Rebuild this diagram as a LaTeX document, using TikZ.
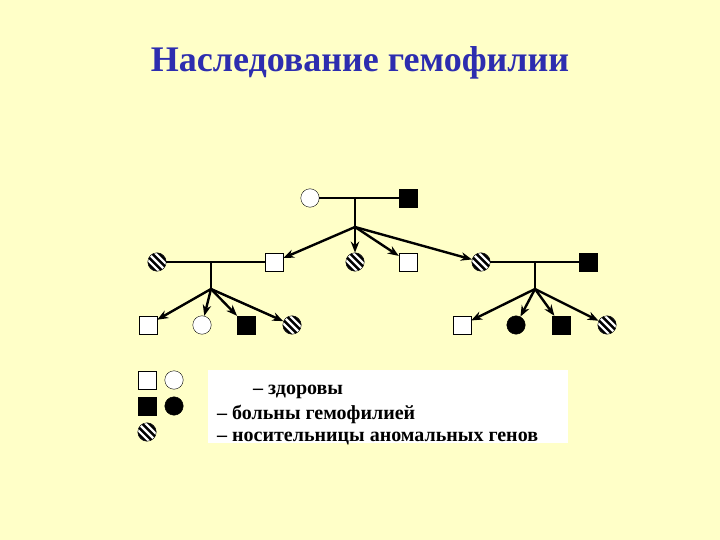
\documentclass[tikz,border=0pt]{standalone}
\usepackage{fontspec}
\setmainfont{Liberation Serif}
\usetikzlibrary{arrows.meta}
\definecolor{bgyellow}{RGB}{255,255,200}
\definecolor{titleblue}{RGB}{45,45,175}

\begin{document}
\begin{tikzpicture}
[x=1pt,y=-1pt,
  malenode/.style={shape=rectangle,draw,thin,fill=white,minimum size=18pt,inner sep=0pt},%
  sickmale/.style={malenode,fill=black},%
  femalenode/.style={shape=circle,draw,thin,fill=white,minimum size=18.5pt,inner sep=0pt},%
  sickfemale/.style={femalenode,fill=black},%
  carrier/.style={femalenode,path picture={%
    \foreach \s in {-7.5,-2.5,2.5,7.5}
      \draw[line width=2.5pt] ([shift={(\s*0.7071pt-14pt,\s*0.7071pt+14pt)}]path picture bounding box.center) -- ++(28pt,-28pt);}},%
  couple/.style={-,line width=2.4pt},%
  descent/.style={-{Stealth[length=11pt,width=8.5pt]},line width=2.4pt},%
  legendtext/.style={anchor=base west,font=\fontsize{20}{22}\selectfont\bfseries,inner sep=0pt}]
\useasboundingbox[fill=bgyellow] (0,0) rectangle (720,540);
\node (title) at (360,63) [text=titleblue,font=\fontsize{36}{40}\selectfont\bfseries] {Наследование гемофилии};
%% healthy males
\foreach \nodename/\x/\y in {s1/274/262, s2/408/262, a1/148/325, b1/462/325, l1/147/380}
{
  \node (\nodename) at (\x,\y) [malenode] {};
}
%% sick males
\foreach \nodename/\x/\y in {gf/408/198, h2/588/262, a3/246/325, b3/561/325, l3/147/406}
{
  \node (\nodename) at (\x,\y) [sickmale] {};
}
%% healthy females
\foreach \nodename/\x/\y in {gm/310/198, a2/202/325, l2/174/380}
{
  \node (\nodename) at (\x,\y) [femalenode] {};
}
%% sick females
\foreach \nodename/\x/\y in {b2/516/325, l4/174/406}
{
  \node (\nodename) at (\x,\y) [sickfemale] {};
}
%% carriers
\foreach \nodename/\x/\y in {w1/157/262, d1/355/262, d2/481/262, a4/292/325, b4/607/325, l5/147/432}
{
  \node (\nodename) at (\x,\y) [carrier] {};
}
%% marriages
\coordinate (j0) at (355,198);
\coordinate (k0) at (355,227);
\coordinate (j1) at (211,262);
\coordinate (k1) at (211,289);
\coordinate (j2) at (535,262);
\coordinate (k2) at (535,289);
\path
\foreach \startnode/\endnode in {gm/gf, w1/s1, d2/h2, j0/k0, j1/k1, j2/k2}
{
  (\startnode) edge[couple] (\endnode)
};
%% children
\path
\foreach \startnode/\endnode in {k0/s1, k0/d1, k0/s2, k0/d2,
  k1/a1, k1/a2, k1/a3, k1/a4, k2/b1, k2/b2, k2/b3, k2/b4}
{
  (\startnode) edge[descent] (\endnode)
};
%% legend
\node (legend) at (388,406.5) [fill=white,minimum width=360pt,minimum height=73pt] {};
\node (t1) at (253,394) [legendtext] {– здоровы};
\node (t2) at (217,419) [legendtext] {– больны гемофилией};
\node (t3) at (217,441) [legendtext] {– носительницы аномальных генов};
\end{tikzpicture}
\end{document}
